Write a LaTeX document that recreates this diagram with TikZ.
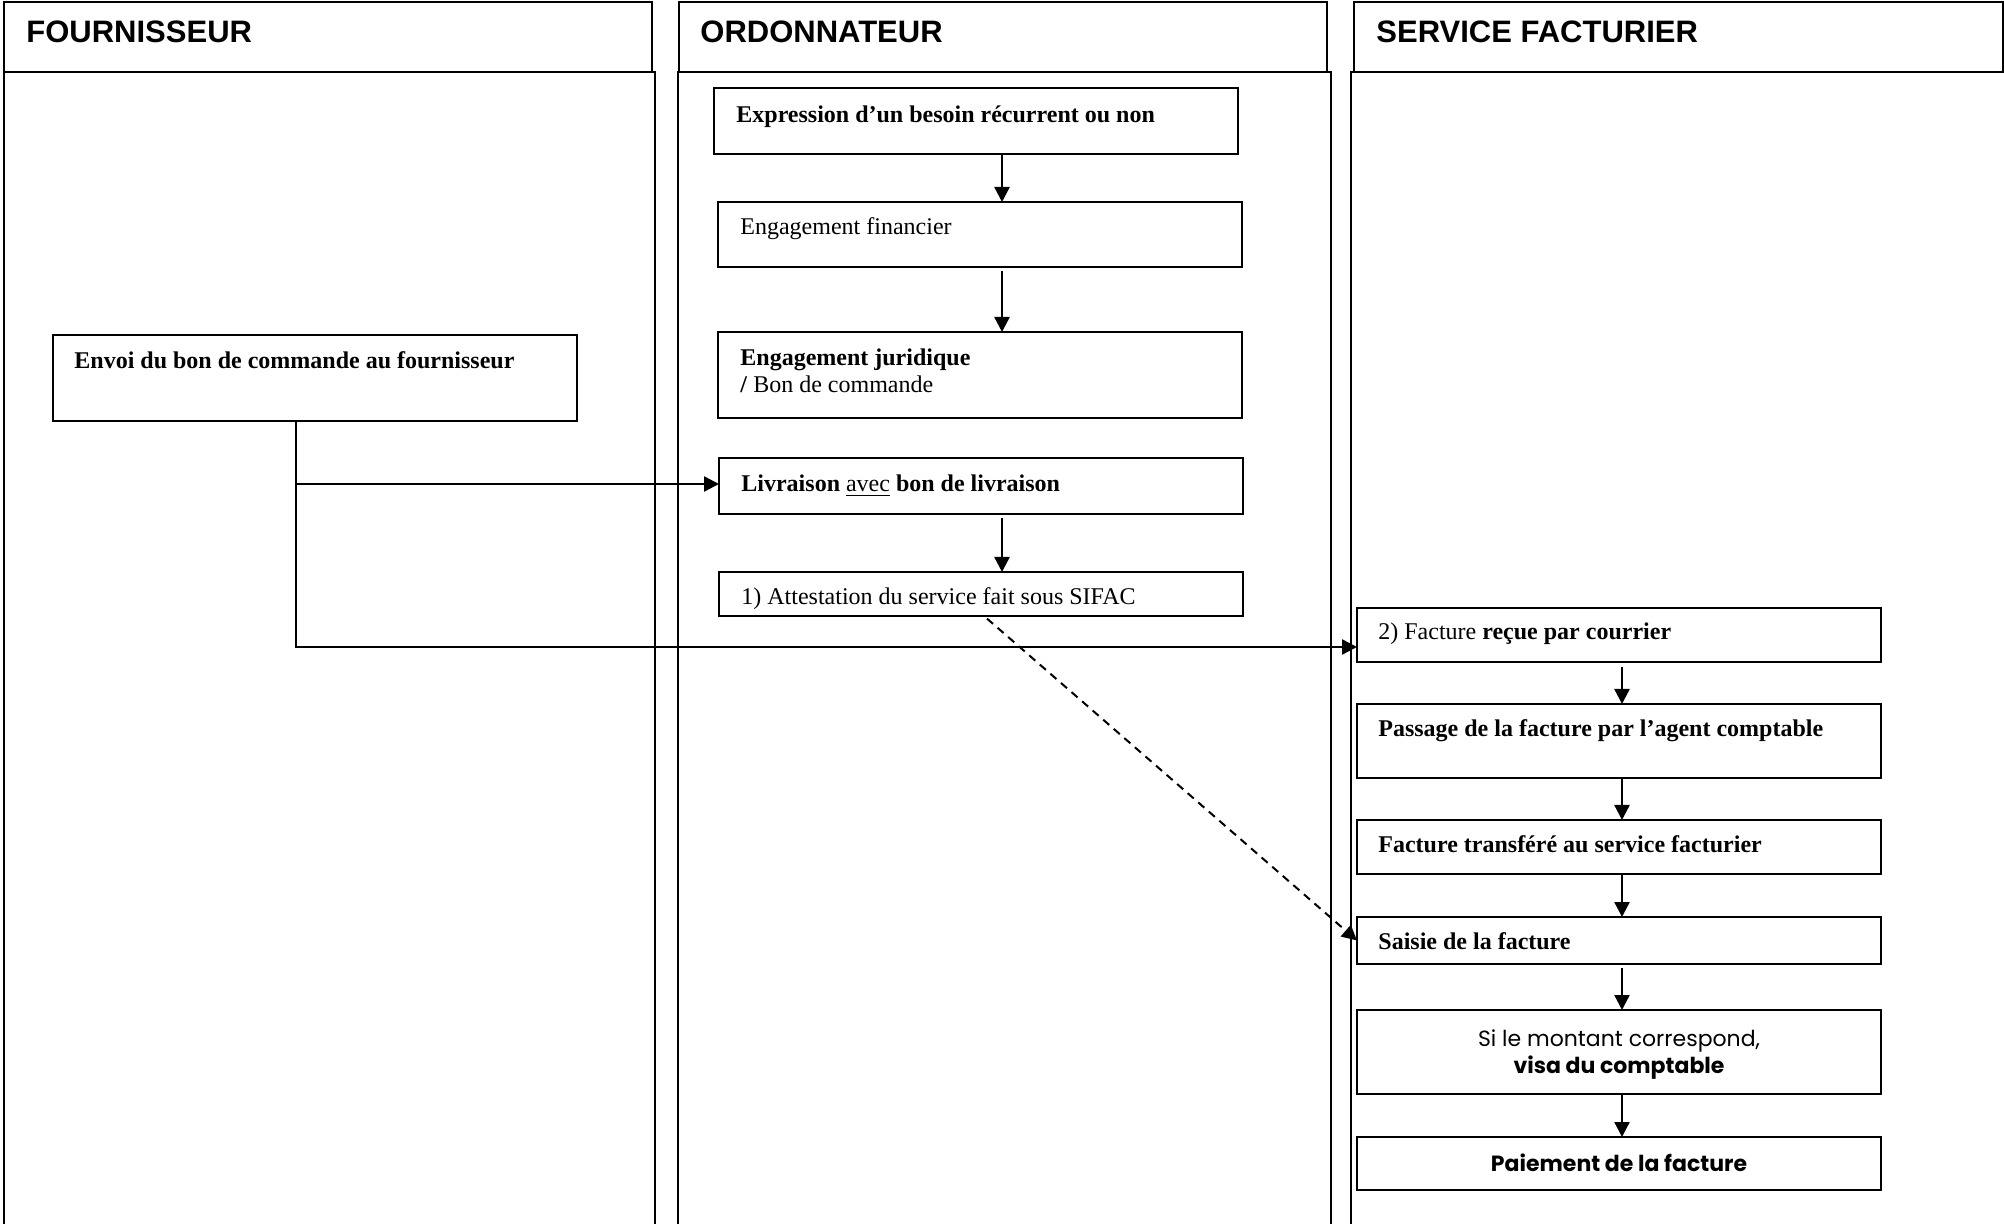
\documentclass[tikz,border=0pt]{standalone}
\usepackage{fontspec}
\setmainfont{Liberation Serif}
\newfontfamily\hdrfont{Liberation Sans}
\newfontfamily\gothfont{Poppins}
\usetikzlibrary{arrows.meta}
\begin{document}
\begin{tikzpicture}[x=0.5pt,y=-0.5pt,
 lane/.style={line width=0.9pt},
 hdrbox/.style={draw,line width=0.9pt,anchor=north west,inner sep=0,outer sep=0,minimum width=324pt,minimum height=35pt},
 hdrtxt/.style={anchor=base west,inner sep=0,font=\hdrfont\bfseries\fontsize{15.5}{18}\selectfont},
 flowbox/.style={draw,line width=1.1pt,anchor=north west,inner sep=0,outer sep=0,minimum width=262pt},
 ftxt/.style={anchor=base west,inner sep=0,font=\fontsize{12}{13.5}\selectfont},
 gtxt/.style={anchor=base,inner sep=0,font=\gothfont\fontsize{11}{13.5}\selectfont},
 arr/.style={line width=1.2pt,-{Triangle[length=7.5pt,width=7.5pt]}},
]
\fill[white] (0,0) rectangle (2004,1224);
\useasboundingbox (0,0) rectangle (2004,1224);

% lanes
\node[hdrbox] (hF) at (4,2) {};
\node[hdrbox] (hO) at (679,2) {};
\node[hdrbox,minimum width=324.5pt] (hS) at (1354,2) {};
\node[hdrtxt] (tF) at (26,43) {FOURNISSEUR};
\node[hdrtxt] (tO) at (700,43) {ORDONNATEUR};
\node[hdrtxt] (tS) at (1376,43) {SERVICE FACTURIER};
\draw[lane] (4,72) -- (4,1230);
\draw[lane] (652,72) -- (655,72) -- (655,1230);
\draw[lane] (679,72) -- (678,72) -- (678,1230);
\draw[lane] (1327,72) -- (1331,72) -- (1331,1230);
\draw[lane] (1354,72) -- (1351,72) -- (1351,1230);

% ordonnateur boxes
\node[flowbox,minimum height=33pt] (exp) at (714,88) {};
\node[flowbox,minimum height=32.5pt] (fin) at (718,202) {};
\node[flowbox,minimum height=43pt] (jur) at (718,332) {};
\node[flowbox,minimum height=28pt] (liv) at (719,458) {};
\node[flowbox,minimum height=22pt] (att) at (719,572) {};
\node[ftxt] (texp) at (736,123) {\textbf{Expression d’un besoin récurrent ou non}};
\node[ftxt] (tfin) at (740,235) {Engagement financier};
\node[ftxt] (tjurA) at (740,366) {\textbf{Engagement juridique}};
\node[ftxt] (tjurB) at (740,393) {\textbf{/} Bon de commande};
\node[ftxt] (tliv) at (741,492) {\textbf{Livraison} \underline{avec} \textbf{bon de livraison}};
\node[ftxt] (tatt) at (741,605) {1) Attestation du service fait sous SIFAC};

% fournisseur box
\node[flowbox,minimum height=43pt] (env) at (53,335) {};
\node[ftxt] (tenv) at (74,369) {\textbf{Envoi du bon de commande au fournisseur}};

% service facturier boxes
\node[flowbox,minimum height=27pt] (rec) at (1357,608) {};
\node[flowbox,minimum height=37pt] (pas) at (1357,704) {};
\node[flowbox,minimum height=27pt] (tra) at (1357,820) {};
\node[flowbox,minimum height=23.5pt] (sai) at (1357,917) {};
\node[flowbox,minimum height=42pt] (si) at (1357,1010) {};
\node[flowbox,minimum height=26.5pt] (pai) at (1357,1137) {};
\node[ftxt] (trec) at (1378,640) {2) Facture \textbf{reçue par courrier}};
\node[ftxt] (tpas) at (1378,737) {\textbf{Passage de la facture par l’agent comptable}};
\node[ftxt] (ttra) at (1378,853) {\textbf{Facture transféré au service facturier}};
\node[ftxt] (tsai) at (1378,950) {\textbf{Saisie de la facture}};
\node[gtxt] (tsiA) at (1619,1046) {Si le montant correspond,};
\node[gtxt] (tsiB) at (1619,1073) {\textbf{visa du comptable}};
\node[gtxt] (tpai) at (1619,1171) {\textbf{Paiement de la facture}};

% connectors
\coordinate (cO) at (1002,0);
\coordinate (cS) at (1622,0);
\coordinate (cD) at (984,0);
\coordinate (j1) at (296,484);
\coordinate (j2) at (296,647);
\draw[arr] (exp.south -| cO) -- (fin.north -| cO);
\draw[arr,shorten <=2pt] (fin.south -| cO) -- (jur.north -| cO);
\draw[arr,shorten <=2pt] (liv.south -| cO) -- (att.north -| cO);
\draw[arr,shorten <=2.5pt] (rec.south -| cS) -- (pas.north -| cS);
\draw[arr] (pas.south -| cS) -- (tra.north -| cS);
\draw[arr] (tra.south -| cS) -- (sai.north -| cS);
\draw[arr,shorten <=2pt] (sai.south -| cS) -- (si.north -| cS);
\draw[arr] (si.south -| cS) -- (pai.north -| cS);
\draw[arr] (env.south -| j1) -- (j1) -- (liv.west |- j1);
\draw[arr] (j1) -- (j2) -- (rec.west |- j2);
\draw[arr,line width=1pt,dashed,dash pattern=on 4pt off 3pt,shorten <=2pt] (att.south -| cD) -- (sai.west);
\end{tikzpicture}
\end{document}
